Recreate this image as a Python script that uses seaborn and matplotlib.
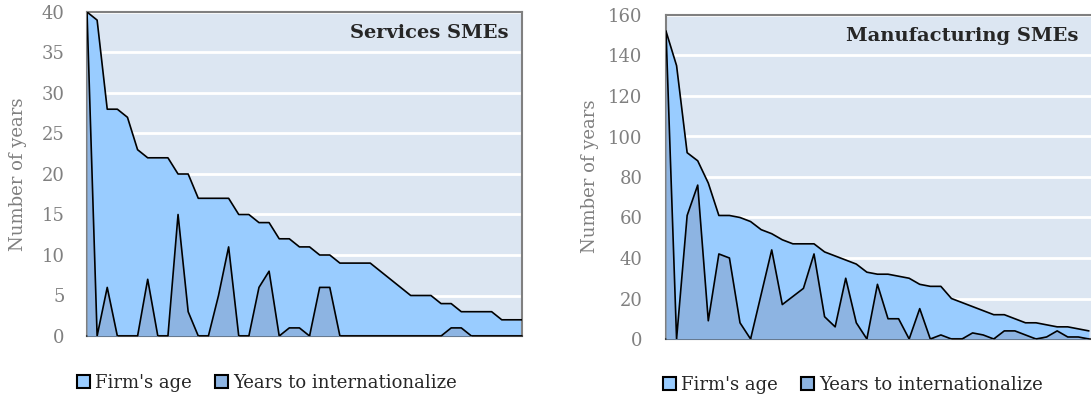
import seaborn as sns
import matplotlib.pyplot as plt
import pandas as pd
from matplotlib.patches import Patch

# Services SMEs, one point per firm
services_age = [40, 39, 28, 28, 27, 23, 22, 22, 22, 20, 20, 17, 17, 17, 17, 15, 15, 14, 14, 12, 12, 11,
                11, 10, 10, 9, 9, 9, 9, 8, 7, 6, 5, 5, 5, 4, 4, 3, 3, 3, 3, 2, 2, 2]
services_intl = [40, 0, 6, 0, 0, 0, 7, 0, 0, 15, 3, 0, 0, 5, 11, 0, 0, 6, 8, 0, 1, 1,
                 0, 6, 6, 0, 0, 0, 0, 0, 0, 0, 0, 0, 0, 0, 1, 1, 0, 0, 0, 0, 0, 0]

# Manufacturing SMEs
manuf_age = [152, 135, 92, 88, 77, 61, 61, 60, 58, 54, 52, 49, 47, 47, 47, 43, 41, 39, 37, 33, 32,
             32, 31, 30, 27, 26, 26, 20, 18, 16, 14, 12, 12, 10, 8, 8, 7, 6, 6, 5, 4]
manuf_intl = [152, 0, 61, 76, 9, 42, 40, 8, 0, 22, 44, 17, 21, 25, 42, 11, 6, 30, 8, 0, 27,
              10, 10, 0, 15, 0, 2, 0, 0, 3, 2, 0, 4, 4, 2, 0, 1, 4, 1, 1, 0]

series_names = ["Firm's age", "Years to internationalize"]

sns.set_style("white")
plt.rcParams['font.family'] = ['DejaVu Serif']

age_color = "#99CCFF"
intl_color = "#8DB4E2"
bg_color = "#DCE6F2"
grey = "#808080"

fig = plt.figure(figsize=(10.91, 4.04), dpi=100)
ax1 = fig.add_axes([87 / 1091, 68 / 404, 435 / 1091, 324 / 404])
ax2 = fig.add_axes([666 / 1091, 65 / 404, 425 / 1091, 324 / 404])


def draw_panel(ax, age, intl, title, ymax, step, xmax):
    df = pd.DataFrame({"firm": range(len(age)), "age": age, "intl": intl})
    ax.set_facecolor(bg_color)
    ax.fill_between(df["firm"], df["age"], color=age_color, zorder=2, linewidth=0)
    ax.fill_between(df["firm"], df["intl"], color=intl_color, zorder=3, linewidth=0)
    sns.lineplot(data=df, x="firm", y="age", ax=ax, color="black", linewidth=1.2, zorder=4)
    sns.lineplot(data=df, x="firm", y="intl", ax=ax, color="black", linewidth=1.2, zorder=5)
    ax.set_xlim(0, xmax)
    ax.set_ylim(0, ymax)
    ax.set_yticks(range(0, ymax + 1, step))
    ax.set_xticks([])
    ax.set_xlabel("")
    ax.set_ylabel("")
    ax.grid(axis="y", color="white", linewidth=2, zorder=1)
    ax.set_axisbelow(True)
    ax.tick_params(axis="y", labelsize=13, labelcolor=grey, colors=grey)
    for s in ax.spines.values():
        s.set_color(grey)
        s.set_linewidth(1.5)
    ax.spines["bottom"].set_color("#404040")
    ax.text(0.97, 0.935, title, transform=ax.transAxes, ha="right", va="center",
            fontsize=14, fontweight="bold", zorder=6)


draw_panel(ax1, services_age, services_intl, "Services SMEs", 40, 5, len(services_age) - 1)
draw_panel(ax2, manuf_age, manuf_intl, "Manufacturing SMEs", 160, 20, 40.2)

ax1.tick_params(axis="y", length=0, pad=16)
ax2.tick_params(axis="y", length=7, width=1, pad=10)
ax2.spines["right"].set_visible(False)

fig.text(18 / 1091, 1 - 174 / 404, "Number of years", rotation=90, ha="center", va="center",
         fontsize=13, color=grey)
fig.text(590 / 1091, 1 - 176 / 404, "Number of years", rotation=90, ha="center", va="center",
         fontsize=13, color=grey)

handles = [Patch(facecolor=age_color, edgecolor="black", linewidth=1.5),
           Patch(facecolor=intl_color, edgecolor="black", linewidth=1.5)]
for cx, cy in [(267 / 1091, 1 - 383 / 404), (853 / 1091, 1 - 385 / 404)]:
    fig.legend(handles, series_names, loc="center", bbox_to_anchor=(cx, cy), ncol=2, frameon=False,
               fontsize=13, handlelength=0.7, handleheight=0.7, handletextpad=0.3,
               columnspacing=1.3)

fig.savefig("out.png", dpi=100)
